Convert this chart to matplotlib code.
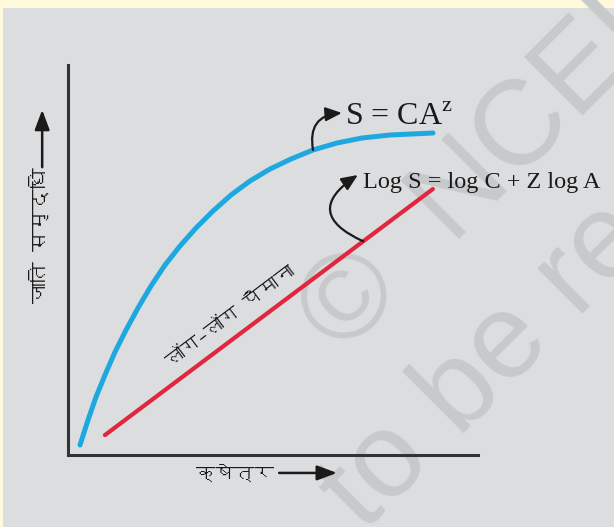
import numpy as np
import matplotlib
matplotlib.use("Agg")
import matplotlib.pyplot as plt
from matplotlib import font_manager
from matplotlib.ft2font import FT2Font
from matplotlib.patches import Rectangle

# data (area vs species richness, arbitrary units 0-100)
area_curve = [2.93, 4.88, 6.83, 9.02, 11.46, 14.15, 17.07, 20.24, 23.66, 27.32, 31.22,
              35.37, 39.76, 44.39, 49.27, 54.39, 59.76, 65.61, 71.71, 78.54, 83.90, 89.02]
richness_curve = [2.56, 8.97, 14.87, 20.51, 26.41, 32.05, 37.69, 43.33, 48.72, 53.59, 58.21,
                  62.56, 66.67, 70.26, 73.33, 75.90, 78.21, 80.00, 81.28, 82.05, 82.31, 82.56]
area_log = [9.0, 89.0]
richness_log = [5.1, 68.2]

ylabel = "जाति समृद्धि"
xlabel = "क्षेत्र"
log_label = "लॉग–लॉग पैमाना"
eq_power = r"S = CA$^{\mathrm{z}}$"
eq_log = "Log S = log C + Z log A"

# find a font with devanagari glyphs, if there is one
deva = None
for f in font_manager.fontManager.ttflist:
    try:
        if 0x0915 in FT2Font(f.fname).get_charmap():
            deva = f.name
            break
    except Exception:
        pass
hindi_font = [deva, "DejaVu Sans"] if deva else ["DejaVu Sans"]

plt.rcParams["mathtext.fontset"] = "custom"
plt.rcParams["mathtext.rm"] = "Liberation Serif"

W, H = 614, 527
fig = plt.figure(figsize=(W / 100, H / 100), dpi=100, facecolor="#fffadc")

# grey panel
fig.patches.append(Rectangle((3 / W, 0), 1, 1 - 8 / H, transform=fig.transFigure,
                             facecolor="#dcdddf", edgecolor="none", zorder=-2))

# watermark
wm = dict(fontsize=87, color="#c8c9cb", rotation=45, rotation_mode="anchor",
          ha="left", va="baseline", family="Liberation Sans", zorder=-1)
fig.text(342 / W, 1 - 356 / H, "©  NCERT", **wm)
fig.text(363 / W, 1 - 533 / H, "to be republished", **wm)

ax = fig.add_axes([68 / W, 1 - 455 / H, 410 / W, 390 / H])
ax.patch.set_visible(False)
ax.set_xlim(0, 100)
ax.set_ylim(0, 100)
for s in ["top", "right"]:
    ax.spines[s].set_visible(False)
for s in ["left", "bottom"]:
    ax.spines[s].set_linewidth(2.2)
    ax.spines[s].set_color("#333333")
ax.set_xticks([])
ax.set_yticks([])

ax.plot(area_curve, richness_curve, color="#1ea8df", lw=3.6,
        solid_capstyle="round", solid_joinstyle="round")
ax.plot(area_log, richness_log, color="#e2263f", lw=3.0, solid_capstyle="round")

# equations with curved arrows
blue_pt = (area_curve[16], richness_curve[16])
ax.annotate("", xy=(66.8, 87.7), xytext=blue_pt, annotation_clip=False,
            arrowprops=dict(arrowstyle="-|>,head_length=0.7,head_width=0.3",
                            connectionstyle="arc3,rad=-0.55", lw=1.6,
                            color="#1a1a1a", mutation_scale=14,
                            shrinkA=0, shrinkB=0))
ax.text(67.6, 84.6, eq_power, fontsize=23, family="Liberation Serif",
        va="baseline", ha="left", color="#1a1a1a")

red_x = 72.0
red_pt = (red_x, np.interp(red_x, area_log, richness_log))
ax.annotate("", xy=(70.7, 71.8), xytext=red_pt, annotation_clip=False,
            arrowprops=dict(arrowstyle="-|>,head_length=0.7,head_width=0.3",
                            connectionstyle="arc3,rad=-0.9", lw=1.6,
                            color="#1a1a1a", mutation_scale=14,
                            shrinkA=0, shrinkB=0))
ax.text(72.0, 68.5, eq_log, fontsize=17.5, family="Liberation Serif",
        va="baseline", ha="left", color="#1a1a1a", clip_on=False)

ax.text(39.5, 35.6, log_label, fontsize=14, family=hindi_font, rotation=37,
        ha="center", va="center", rotation_mode="anchor", color="#1a1a1a")

# axis labels with arrows
ax.text(-6.8, 56.4, ylabel, fontsize=15, family=hindi_font, rotation=90,
        ha="center", va="center", color="#1a1a1a")
ax.annotate("", xy=(-6.3, 88.5), xytext=(-6.3, 73.8), annotation_clip=False,
            arrowprops=dict(arrowstyle="-|>,head_length=0.8,head_width=0.3",
                            lw=1.8, color="#1a1a1a", mutation_scale=15,
                            shrinkA=0, shrinkB=0))
ax.text(50.2, -4.6, xlabel, fontsize=14, family=hindi_font,
        ha="right", va="center", color="#1a1a1a")
ax.annotate("", xy=(65.6, -4.6), xytext=(51.5, -4.6), annotation_clip=False,
            arrowprops=dict(arrowstyle="-|>,head_length=0.8,head_width=0.3",
                            lw=1.8, color="#1a1a1a", mutation_scale=15,
                            shrinkA=0, shrinkB=0))

fig.savefig("out.png", dpi=100, facecolor=fig.get_facecolor())
